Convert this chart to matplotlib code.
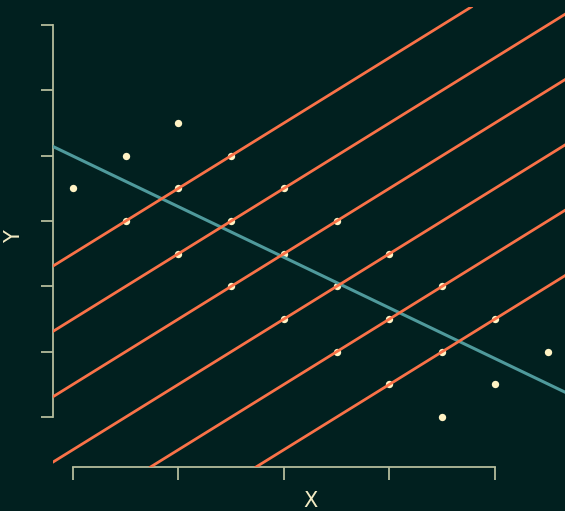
import numpy as np
import matplotlib
matplotlib.use("Agg")
import matplotlib.pyplot as plt

# data: 8 groups of 3 points
x = [0, 1, 2,  1, 2, 3,  2, 3, 4,  3, 4, 5,  4, 5, 6,  5, 6, 7,  6, 7, 8,  7, 8, 9]
y = [7, 8, 9,  6, 7, 8,  5, 6, 7,  4, 5, 6,  3, 4, 5,  2, 3, 4,  1, 2, 3,  0, 1, 2]
group = [0, 0, 0, 1, 1, 1, 2, 2, 2, 3, 3, 3, 4, 4, 4, 5, 5, 5, 6, 6, 6, 7, 7, 7]
line_groups = [1, 2, 3, 4, 5, 6]
x_ticks = [0, 2, 4, 6, 8]
y_ticks = [0, 2, 4, 6, 8, 10, 12]

bg = "#01201f"
dot_c = "#fff3c4"
orange = "#fa7248"
teal = "#4f9a9c"
spine_c = "#b4bc9c"
text_c = "#f3ecc4"

x = np.array(x, float)
y = np.array(y, float)
group = np.array(group)

fig = plt.figure(figsize=(5.65, 5.11), dpi=100, facecolor=bg)
ax = fig.add_axes([53 / 565, 44 / 511, 1 - 53 / 565, (467 - 7) / 511])
ax.set_facecolor(bg)

ax.scatter(x, y, s=28, color=dot_c, zorder=2, linewidths=0)

# overall regression line
b, a = np.polyfit(x, y, 1)
ax.axline((0, a), slope=b, color=teal, lw=2.2, zorder=3)

# within-group lines
for g in line_groups:
    m = group == g
    gb, ga = np.polyfit(x[m], y[m], 1)
    ax.axline((0, ga), slope=gb, color=orange, lw=2.0, zorder=4)

ax.set_xlim(-0.379, 9.327)
ax.set_ylim(-1.53, 12.55)
ax.set_xticks(x_ticks)
ax.set_yticks(y_ticks)
ax.set_xticklabels([])
ax.set_yticklabels([])
ax.tick_params(colors=spine_c, length=9, width=1.3, direction="out")
for s in ["top", "right"]:
    ax.spines[s].set_visible(False)
for s in ["left", "bottom"]:
    ax.spines[s].set_color(spine_c)
    ax.spines[s].set_linewidth(1.3)
ax.spines["bottom"].set_bounds(x_ticks[0], x_ticks[-1])
ax.spines["left"].set_bounds(y_ticks[0], y_ticks[-1])

fig.text(311 / 565, 1 - 501 / 511, "X", color=text_c, fontsize=15, ha="center", va="center")
fig.text(14 / 565, 1 - 237 / 511, "Y", color=text_c, fontsize=15, ha="center", va="center", rotation=90)

fig.savefig("out.png", dpi=100, facecolor=bg)
